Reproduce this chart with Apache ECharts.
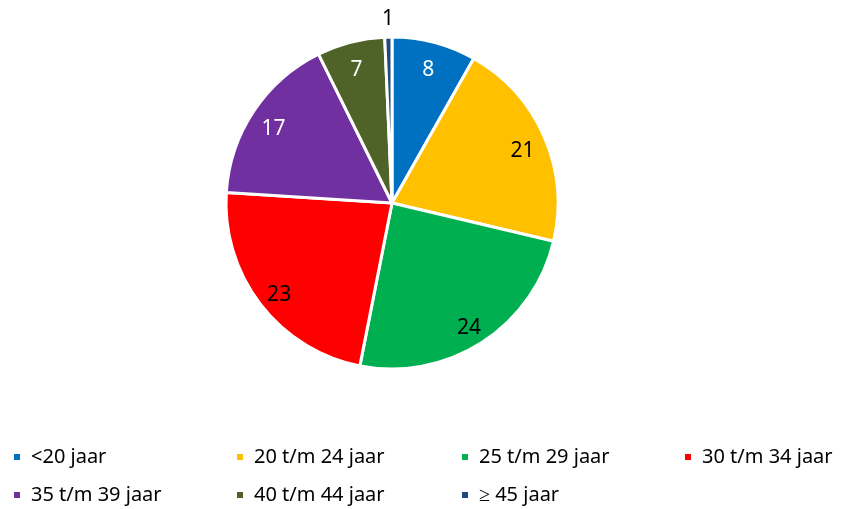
<!DOCTYPE html>
<html><head><meta charset="utf-8">
<script src="https://cdn.jsdelivr.net/npm/echarts@6/dist/echarts.min.js"></script>
<style>html,body{margin:0;padding:0;background:#fff}#c{width:845px;height:509px}</style>
</head><body><div id="c"></div>
<script>
const categories = ['<20 jaar','20 t/m 24 jaar','25 t/m 29 jaar','30 t/m 34 jaar','35 t/m 39 jaar','40 t/m 44 jaar','≥ 45 jaar'];
const values = [8.2, 20.5, 24.4, 22.9, 16.7, 6.6, 0.7];
const colors = ['#0070C0','#FFC000','#00B050','#FF0000','#7030A0','#4F6228','#1F497D'];
const labelColors = ['#fff','#000','#000','#000','#fff','#fff','#000'];
const legendLeft = [12, 235, 460, 683, 12, 235, 460];
const legendTop = [447, 447, 447, 447, 485, 485, 485];

const FONT = 'Noto Sans';
const center = [392, 203];
const R = 166;
const fmt = p => String(Math.round(p.value));

const pieData = categories.map((n,i)=>({name:n, value:values[i], itemStyle:{color:colors[i]}}));
const labelData = categories.map((n,i)=>({name:n, value:values[i],
    label:{show: i !== 6, position:'inside', color:labelColors[i]}}));
const outerData = categories.map((n,i)=>({name:n, value:values[i],
    label:{show: i === 6, position:'inside', color:labelColors[i]}}));

const legends = categories.map((n,i)=>({
  data:[n], orient:'horizontal', left:legendLeft[i], top:legendTop[i], padding:0,
  icon:'rect', itemWidth:8, itemHeight:8,
  textStyle:{fontFamily:FONT, fontSize:20, color:'#000', padding:[0,0,0,5]},
  selectedMode:false
}));

const chart = echarts.init(document.getElementById('c'), null, {renderer:'canvas'});
chart.setOption({
  animation:false,
  color: colors,
  legend: legends,
  series:[
    {type:'pie', center:center, radius:[0,R], startAngle:90, clockwise:true,
     data:pieData, label:{show:false}, labelLine:{show:false},
     itemStyle:{borderColor:'#fff', borderWidth:3}, silent:true},
    {type:'pie', center:center, radius:[Math.round(R*0.68),R], startAngle:90, clockwise:true,
     data:labelData, itemStyle:{color:'rgba(0,0,0,0)'}, silent:true, legendHoverLink:false,
     label:{fontFamily:FONT, fontSize:21, formatter:fmt, offset:[0,5]}, labelLine:{show:false}, avoidLabelOverlap:false},
    {type:'pie', center:center, radius:[R+2,R+34], startAngle:90, clockwise:true,
     data:outerData, itemStyle:{color:'rgba(0,0,0,0)'}, silent:true, legendHoverLink:false,
     label:{fontFamily:FONT, fontSize:21, formatter:fmt, offset:[0,3]}, labelLine:{show:false}, avoidLabelOverlap:false}
  ]
});
</script></body></html>
